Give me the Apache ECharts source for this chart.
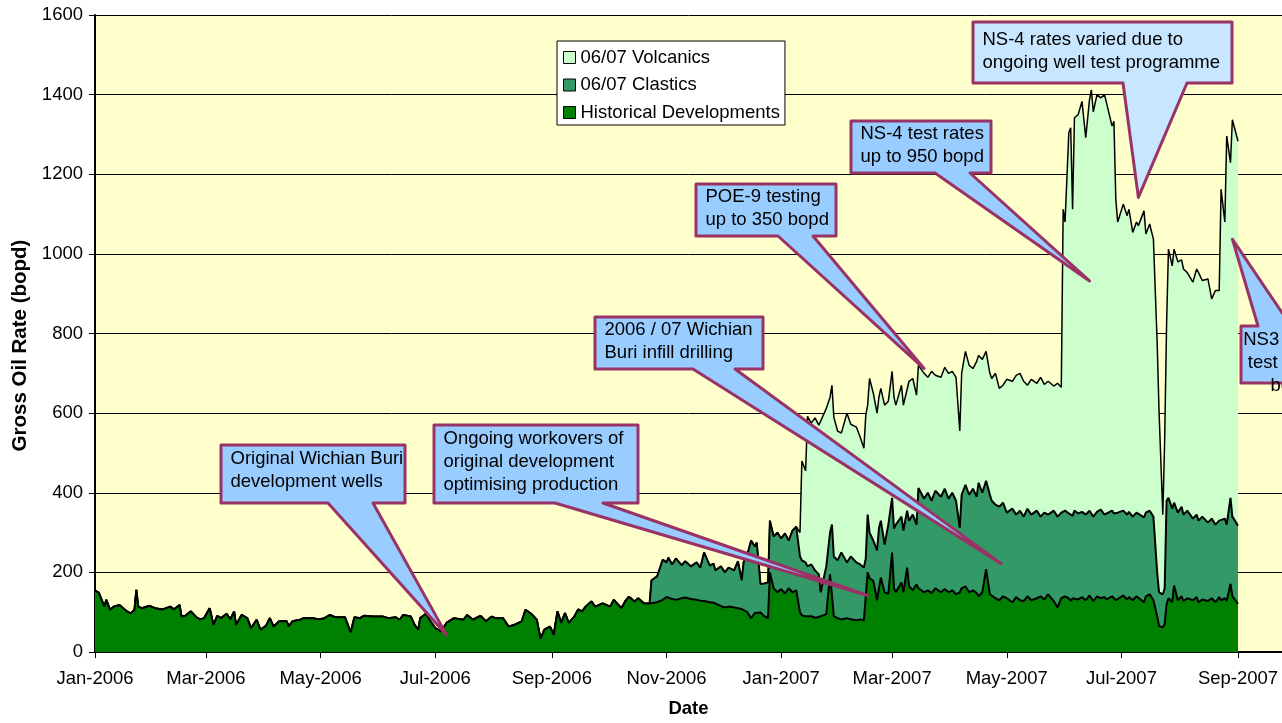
<!DOCTYPE html>
<html><head><meta charset="utf-8">
<script src="https://cdn.jsdelivr.net/npm/echarts@6/dist/echarts.min.js"></script>
<style>html,body{margin:0;padding:0;background:#fff}#c{width:1282px;height:723px}</style>
</head><body><div id="c"></div>
<script>
// ---------------- DATA ----------------
const dates = [
'2006-01-01','2006-01-02','2006-01-03','2006-01-06','2006-01-07','2006-01-09','2006-01-11','2006-01-14','2006-01-18','2006-01-20',
'2006-01-22','2006-01-23','2006-01-24','2006-01-26','2006-01-30','2006-02-02','2006-02-06','2006-02-10','2006-02-12','2006-02-15',
'2006-02-16','2006-02-18','2006-02-21','2006-02-24','2006-02-26','2006-02-28','2006-03-03','2006-03-05','2006-03-07','2006-03-09',
'2006-03-12','2006-03-14','2006-03-16','2006-03-17','2006-03-20','2006-03-23','2006-03-25','2006-03-28','2006-03-30','2006-04-02',
'2006-04-04','2006-04-06','2006-04-09','2006-04-13','2006-04-14','2006-04-16','2006-04-20','2006-04-22','2006-04-27','2006-04-30',
'2006-05-03','2006-05-06','2006-05-09','2006-05-14','2006-05-17','2006-05-19','2006-05-22','2006-05-24','2006-05-29','2006-06-03',
'2006-06-06','2006-06-10','2006-06-12','2006-06-14','2006-06-18','2006-06-20','2006-06-22','2006-06-23','2006-06-26','2006-06-29',
'2006-07-01','2006-07-04','2006-07-07','2006-07-11','2006-07-16','2006-07-18','2006-07-21','2006-07-25','2006-07-28','2006-07-31',
'2006-08-02','2006-08-06','2006-08-09','2006-08-12','2006-08-16','2006-08-18','2006-08-21','2006-08-24','2006-08-26','2006-08-28',
'2006-08-31','2006-09-02','2006-09-04','2006-09-06','2006-09-08','2006-09-10','2006-09-13','2006-09-15','2006-09-17','2006-09-19',
'2006-09-22','2006-09-24','2006-09-28','2006-10-02','2006-10-04','2006-10-08','2006-10-10','2006-10-12','2006-10-15','2006-10-17',
'2006-10-20',
'2006-10-23','2006-10-24','2006-10-27','2006-10-30','2006-11-01','2006-11-02','2006-11-04','2006-11-06','2006-11-09','2006-11-11',
'2006-11-14','2006-11-17','2006-11-19','2006-11-21','2006-11-24','2006-11-26','2006-11-27','2006-11-30','2006-12-02','2006-12-04',
'2006-12-07','2006-12-09','2006-12-11','2006-12-12','2006-12-14','2006-12-16','2006-12-18','2006-12-19','2006-12-21','2006-12-23',
'2006-12-25','2006-12-26','2006-12-28','2006-12-30','2007-01-01','2007-01-03','2007-01-05','2007-01-07','2007-01-09',
'2007-01-11','2007-01-12','2007-01-14','2007-01-15','2007-01-17','2007-01-19','2007-01-21','2007-01-22','2007-01-25','2007-01-27',
'2007-01-28','2007-01-29','2007-01-31','2007-02-02','2007-02-05','2007-02-07','2007-02-10','2007-02-12','2007-02-14','2007-02-15',
'2007-02-16','2007-02-17','2007-02-19','2007-02-21','2007-02-22','2007-02-23','2007-02-25','2007-02-27','2007-03-01','2007-03-02',
'2007-03-03','2007-03-06','2007-03-07','2007-03-09','2007-03-10','2007-03-12','2007-03-14','2007-03-15','2007-03-18','2007-03-20',
'2007-03-22','2007-03-24','2007-03-27','2007-03-29','2007-03-31','2007-04-02','2007-04-04','2007-04-06','2007-04-07','2007-04-09',
'2007-04-11','2007-04-13','2007-04-15','2007-04-16','2007-04-18','2007-04-20','2007-04-22','2007-04-23','2007-04-25','2007-04-27',
'2007-04-29','2007-05-01','2007-05-04','2007-05-06','2007-05-08','2007-05-10','2007-05-12','2007-05-14','2007-05-17','2007-05-19',
'2007-05-21','2007-05-23','2007-05-26','2007-05-28','2007-05-30','2007-05-31','2007-06-01','2007-06-03','2007-06-04','2007-06-05',
'2007-06-06','2007-06-08','2007-06-10','2007-06-12','2007-06-14','2007-06-15','2007-06-16','2007-06-18','2007-06-20','2007-06-22',
'2007-06-23','2007-06-26','2007-06-27','2007-06-28','2007-06-29','2007-07-02','2007-07-04','2007-07-05','2007-07-07','2007-07-09',
'2007-07-10','2007-07-13','2007-07-14','2007-07-16','2007-07-18','2007-07-20','2007-07-21','2007-07-23','2007-07-24','2007-07-25',
'2007-07-26','2007-07-28','2007-07-29','2007-07-31','2007-08-02','2007-08-03','2007-08-05','2007-08-08','2007-08-10','2007-08-11',
'2007-08-13','2007-08-16','2007-08-18','2007-08-20','2007-08-22','2007-08-23','2007-08-25','2007-08-26','2007-08-28','2007-08-29',
'2007-09-01'
];

// Historical Developments (bopd), one value per date
const historical = [
154,152,149,114,131,106,114,118,102,97,
106,156,114,110,116,110,107,114,107,118,
89,91,102,87,82,85,110,68,91,85,
96,82,102,68,93,85,60,81,56,66,
85,64,77,77,64,77,81,85,85,82,
85,93,87,87,49,87,85,91,89,89,
85,87,81,93,89,68,56,85,96,73,
60,52,73,85,81,93,81,91,77,89,
85,85,64,68,77,106,96,81,33,56,
64,43,102,73,98,73,89,107,102,114,
127,114,122,114,131,110,127,139,127,135,
122,
122,122,125,131,138,143,133,131,135,137,
133,131,129,128,125,124,122,115,112,114,
112,110,108,110,100,85,98,100,99,90,
85,200,160,150,158,147,160,150,155,
100,92,90,88,90,86,88,90,95,195,
190,90,85,82,85,82,80,82,80,85,
200,185,179,130,160,187,150,146,250,160,
150,175,150,212,165,155,170,160,150,155,
148,160,150,158,150,155,145,150,160,165,
150,155,148,140,150,208,145,140,135,130,
140,135,125,138,130,128,140,130,135,140,
132,145,128,112,135,130,140,135,128,135,
140,132,138,130,142,135,128,140,135,138,
132,140,136,130,135,142,132,138,130,140,
135,125,140,145,130,90,65,62,70,120,
135,125,167,130,140,128,135,130,138,125,
132,128,135,125,138,130,135,128,171,140,
121
];

// 06/07 Clastics (bopd), from 2006-10-23 onwards (zero before)
const clastics = [
0,58,65,101,87,94,87,104,83,91,
82,94,83,122,92,98,83,100,88,98,
93,118,72,115,145,195,167,175,72,82,
90,130,130,150,127,151,120,155,160,
140,138,135,127,130,119,107,60,120,105,
130,150,145,168,140,158,145,138,132,150,
145,115,101,125,150,143,120,174,137,150,
170,165,155,143,165,190,150,252,235,245,
232,245,240,252,235,245,235,162,235,255,
245,255,242,285,250,222,250,240,235,235,
235,215,235,207,225,212,220,215,220,200,
218,200,227,228,215,215,215,213,222,207,
215,216,214,215,213,215,212,212,223,207,
218,215,212,215,215,213,213,214,210,210,
210,213,210,210,210,110,85,83,90,260,
252,235,208,220,225,217,220,205,207,205,
208,197,200,195,192,195,200,192,216,200,
196
];

// 06/07 Volcanics (bopd), from 2007-01-11 onwards (zero before)
const volcanics = [
60,250,230,377,355,383,375,430,397,340,
350,350,325,300,375,332,340,320,300,360,
275,387,370,345,330,332,350,310,318,330,
300,330,315,305,350,342,325,308,315,290,
325,290,300,305,315,305,310,243,305,335,
325,302,340,320,335,325,305,307,330,297,
295,335,320,350,345,340,310,340,320,350,
322,335,313,335,315,767,725,956,967,770,
987,1002,1031,947,1032,1062,1017,1048,1034,1055,
1055,966,985,792,730,770,751,760,714,730,
726,770,700,720,697,577,454,200,375,441,
625,610,637,630,620,617,598,594,617,623,
593,612,552,588,578,837,745,976,842,997,
966
];

const seriesNames = ['06/07 Volcanics', '06/07 Clastics', 'Historical Developments'];
const tickDates = ['2006-01-01','2006-03-01','2006-05-01','2006-07-01','2006-09-01','2006-11-01',
                   '2007-01-01','2007-03-01','2007-05-01','2007-07-01','2007-09-01'];
const tickLabels = ['Jan-2006','Mar-2006','May-2006','Jul-2006','Sep-2006','Nov-2006',
                    'Jan-2007','Mar-2007','May-2007','Jul-2007','Sep-2007'];

// Callout annotations: text, the data point the pointer aims at, and layout (pixels)
const callouts = [
  {lines:['Original Wichian Buri','development wells'], tip:['2006-07-07',43],
   box:[221,445,405,503], base:[328,373], edge:'bottom', ty:2.5},
  {lines:['Ongoing workovers of','original development','optimising production'], tip:['2007-02-16',142],
   box:[434,425,638,503], base:[555,603], edge:'bottom', ty:2.5},
  {lines:['2006 / 07 Wichian','Buri infill drilling'], tip:['2007-04-28',222],
   box:[595,317,763,369], base:[693,735], edge:'bottom', ty:1.5},
  {lines:['POE-9 testing','up to 350 bopd'], tip:['2007-03-18',712],
   box:[696,184,836,236], base:[778,813], edge:'bottom', ty:1.5},
  {lines:['NS-4 test rates','up to 950 bopd'], tip:['2007-06-14',932],
   box:[851,121,991,173], base:[935,970], edge:'bottom', ty:1.5},
  {lines:['NS-4 rates varied due to','ongoing well test programme'], tip:['2007-07-10',1142],
   box:[973,22,1232,83], base:[1123,1187], edge:'bottom', ty:6.5, fill:'#C8E6FF'},
  {lines:['NS3 testing','test to 600','bopd'], tip:['2007-08-29',1037],
   box:[1241,326,1341,383], base:[1258,1291], edge:'top', ty:2.5, align:'center'}
];

// ---------------- CHART ----------------
const DAY = 86400000;
function ts(s){ const p = s.split('-').map(Number); return Date.UTC(p[0], p[1]-1, p[2]); }
function padFront(arr){ return new Array(dates.length - arr.length).fill(0).concat(arr); }

if (historical.length !== dates.length) throw new Error('historical ' + historical.length + ' vs dates ' + dates.length);
if (clastics.length !== dates.length - dates.indexOf('2006-10-23')) throw new Error('clastics ' + clastics.length + ' expected ' + (dates.length - dates.indexOf('2006-10-23')));
if (volcanics.length !== dates.length - dates.indexOf('2007-01-11')) throw new Error('volcanics ' + volcanics.length + ' expected ' + (dates.length - dates.indexOf('2007-01-11')));

const FONT = '"Liberation Sans", Arial, sans-serif';
const times = dates.map(ts);
const tickTs = tickDates.map(ts);
// Stacked (cumulative) table built from the three component arrays
const cFull = padFront(clastics), vFull = padFront(volcanics);
const hTop = historical.slice();
const cTop = hTop.map((v,i) => v + cFull[i]);
const vTop = cTop.map((v,i) => v + vFull[i]);
const hData = times.map((t,i) => [t, hTop[i]]);
const cData = times.map((t,i) => [t, cTop[i]]);
const vData = times.map((t,i) => [t, vTop[i]]);

function areaSeries(name, data, fill, lw, z){
  return {
    name, type:'line', data, z,
    symbol:'none', showSymbol:false, smooth:false, animation:false,
    color: fill,
    itemStyle:{color: fill},
    lineStyle:{color:'#000', width: lw},
    areaStyle:{color: fill, opacity:1, origin:'start'},
    emphasis:{disabled:true}
  };
}

const chart = echarts.init(document.getElementById('c'), null, {renderer:'canvas'});
chart.setOption({
  animation:false,
  backgroundColor:'#ffffff',
  textStyle:{fontFamily:FONT},
  grid:{left:95, top:15, bottom:68, right:0, show:true, backgroundColor:'#FFFFCC', borderWidth:0, containLabel:false},
  legend:{
    data: seriesNames, orient:'vertical', left:557, top:41,
    icon:'rect', itemWidth:12, itemHeight:12, itemGap:8.5,
    backgroundColor:'#ffffff', borderColor:'#000', borderWidth:1, borderRadius:0,
    padding:[7,5,3,6],
    itemStyle:{borderColor:'#000', borderWidth:1},
    textStyle:{fontSize:18.5, color:'#000', fontFamily:FONT},
    selectedMode:false
  },
  xAxis:{
    type:'value', min: ts('2006-01-01'), max: ts('2007-09-01') + 23.4 * DAY,
    name:'Date', nameLocation:'middle', nameGap:47,
    nameTextStyle:{fontSize:18.5, fontWeight:'bold', color:'#000', fontFamily:FONT},
    axisLine:{show:true, onZero:false, lineStyle:{color:'#000', width:2}},
    axisTick:{show:true, length:6, customValues: tickTs, lineStyle:{color:'#000', width:1}},
    axisLabel:{customValues: tickTs, fontSize:18.5, color:'#000', margin:17, fontFamily:FONT,
      formatter: v => { const i = tickTs.indexOf(v); return i >= 0 ? tickLabels[i] : ''; }},
    splitLine:{show:false}
  },
  yAxis:{
    type:'value', min:0, max:1600, interval:200,
    name:'Gross Oil Rate (bopd)', nameLocation:'middle', nameGap:62, nameRotate:90,
    nameTextStyle:{fontSize:20.5, fontWeight:'bold', color:'#000', fontFamily:FONT, padding:[0,24,0,0]},
    axisLine:{show:true, lineStyle:{color:'#000', width:2}},
    axisTick:{show:true, length:6, lineStyle:{color:'#000', width:1}},
    axisLabel:{fontSize:18.5, color:'#000', margin:12, fontFamily:FONT, formatter: v => String(v)},
    splitLine:{show:true, lineStyle:{color:'#000', width:1}}
  },
  series:[
    areaSeries(seriesNames[0], vData, '#CCFFCC', 1.5, 3),
    areaSeries(seriesNames[1], cData, '#339966', 2, 4),
    areaSeries(seriesNames[2], hData, '#008000', 2, 5)
  ]
});

const graphics = [];
callouts.forEach(c => {
  const tip = chart.convertToPixel({gridIndex:0}, [ts(c.tip[0]), c.tip[1]]);
  const [x0,y0,x1,y1] = c.box; const [b0,b1] = c.base;
  const pts = c.edge === 'top'
    ? [[x0,y0],[b0,y0],tip,[b1,y0],[x1,y0],[x1,y1],[x0,y1]]
    : [[x0,y0],[x1,y0],[x1,y1],[b1,y1],tip,[b0,y1],[x0,y1]];
  graphics.push({type:'polygon', z:100, silent:true, shape:{points:pts},
    style:{fill:c.fill || '#99CCFF', stroke:'#993366', lineWidth:3, lineJoin:'round'}});
  const center = c.align === 'center';
  graphics.push({type:'text', z:101, silent:true,
    x: center ? (x0 + x1) / 2 : x0 + 9.5, y: y0 + c.ty,
    style:{text:c.lines.join('\n'), font:'18.5px ' + FONT, fill:'#000', lineHeight:23,
      align: center ? 'center' : 'left', textAlign: center ? 'center' : 'left',
      verticalAlign:'top', textVerticalAlign:'top'}});
});
chart.setOption({graphic: graphics});
</script>
</body></html>
